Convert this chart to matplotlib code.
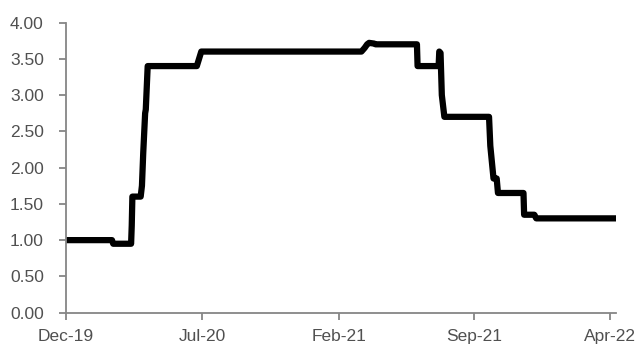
import datetime as dt
import matplotlib
matplotlib.use("Agg")
import matplotlib.pyplot as plt
import matplotlib.dates as mdates

# corner points of the series (date, level)
dates = [
    "2019-12-01", "2020-02-11", "2020-02-13", "2020-03-12", "2020-03-13",
    "2020-03-14", "2020-03-27", "2020-03-29", "2020-03-31", "2020-04-03",
    "2020-04-04", "2020-04-07", "2020-06-23", "2020-06-30", "2021-03-08",
    "2021-03-13", "2021-03-17", "2021-03-20", "2021-03-28", "2021-03-30",
    "2021-06-03", "2021-06-04", "2021-07-07", "2021-07-08", "2021-07-10",
    "2021-07-12", "2021-07-16", "2021-09-24", "2021-09-26", "2021-10-01",
    "2021-10-06", "2021-10-08", "2021-11-17", "2021-11-18", "2021-12-04",
    "2021-12-07", "2022-04-10",
]
values = [
    1.00, 1.00, 0.95, 0.95, 1.20,
    1.60, 1.60, 1.75, 2.20, 2.75,
    2.80, 3.40, 3.40, 3.60, 3.60,
    3.65, 3.70, 3.72, 3.71, 3.70,
    3.70, 3.40, 3.40, 3.60, 3.58,
    3.00, 2.70, 2.70, 2.30, 1.85,
    1.85, 1.65, 1.65, 1.35, 1.35,
    1.30, 1.30,
]
tick_dates = ["2019-12-01", "2020-07-01", "2021-02-01", "2021-09-01", "2022-04-01"]
y_ticks = [0, 0.5, 1.0, 1.5, 2.0, 2.5, 3.0, 3.5, 4.0]

x = [dt.datetime.strptime(d, "%Y-%m-%d") for d in dates]
xt = [dt.datetime.strptime(d, "%Y-%m-%d") for d in tick_dates]

plt.rcParams["font.family"] = ["Liberation Sans", "DejaVu Sans"]

fig = plt.figure(figsize=(6.41, 3.47), dpi=100)
ax = fig.add_axes([0.103, 0.099, 0.858, 0.836])

ax.plot(x, values, color="black", linewidth=4.5)

ax.set_xlim(dt.datetime(2019, 12, 1), dt.datetime(2022, 4, 11))
ax.set_ylim(0, 4)
ax.set_yticks(y_ticks)
ax.yaxis.set_major_formatter(plt.FuncFormatter(lambda v, p: "%.2f" % v))
ax.set_xticks(xt)
ax.xaxis.set_major_formatter(mdates.DateFormatter("%b-%y"))

for s in ["top", "right"]:
    ax.spines[s].set_visible(False)
for s in ["left", "bottom"]:
    ax.spines[s].set_color("#868686")
    ax.spines[s].set_linewidth(1.3)

ax.tick_params(axis="both", colors="#868686", length=5, width=1.3,
               labelcolor="#505050", labelsize=12.5)
ax.tick_params(axis="y", pad=11)
ax.tick_params(axis="x", pad=7)

fig.savefig("out.png", dpi=100)
